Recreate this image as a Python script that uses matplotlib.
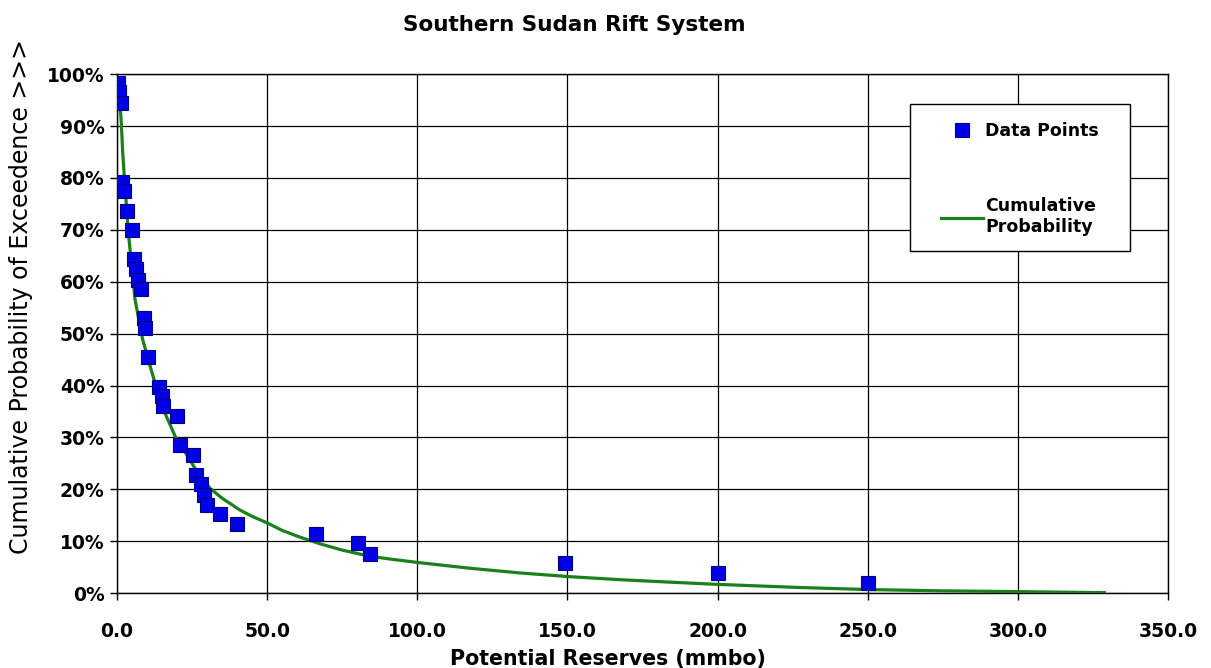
import matplotlib
matplotlib.use("Agg")
import matplotlib.pyplot as plt
from matplotlib.lines import Line2D
from matplotlib.patches import Rectangle
from matplotlib.ticker import FuncFormatter

plt.rcParams["font.family"] = ["DejaVu Sans"]

# Data points (reserves in mmbo, exceedence in %)
pts_x = [0.4, 0.8, 1.2, 1.6, 2.3, 3.2, 5.1, 5.6, 6.3, 7.1, 7.9, 9.1, 9.4, 10.4,
         14.0, 14.9, 15.3, 20.0, 20.9, 25.3, 26.2, 28.1, 28.9, 30.0, 34.2, 40.1,
         66.3, 80.3, 84.1, 149.1, 200.0, 250.0]
pts_y = [98.2, 96.5, 94.4, 79.3, 77.4, 73.6, 69.9, 64.3, 62.4, 60.4, 58.7, 53.1,
         51.1, 45.5, 39.8, 38.0, 36.1, 34.2, 28.6, 26.7, 22.8, 21.0, 19.0, 17.0,
         15.2, 13.3, 11.4, 9.6, 7.6, 5.8, 3.8, 2.0]

# Cumulative probability curve
curve_x = [0.4, 0.9, 1.4, 1.9, 2.5, 3.8, 6.0, 8.5, 11.0, 14.9, 19.4, 23.4, 27.0,
           31.0, 35.0, 41.0, 45.0, 49.8, 55.0, 60.9, 67.7, 75.0, 84.3, 92.0,
           100.4, 117.6, 134.2, 150.3, 167.5, 185.0, 200.0, 227.0, 250.0, 275.0,
           300.0, 328.8]
curve_y = [97.5, 95.0, 91.0, 85.0, 79.7, 69.4, 56.6, 49.0, 43.8, 36.1, 30.2, 26.5,
           23.1, 20.2, 18.3, 16.0, 14.8, 13.6, 12.1, 10.8, 9.5, 8.3, 7.1, 6.5,
           5.9, 4.8, 3.9, 3.2, 2.6, 2.1, 1.7, 1.1, 0.7, 0.45, 0.3, 0.1]

x_ticks = [0, 50, 100, 150, 200, 250, 300, 350]
y_ticks = [0, 10, 20, 30, 40, 50, 60, 70, 80, 90, 100]

fig = plt.figure(figsize=(12.11, 6.68), dpi=100)
ax = fig.add_axes([0.0966, 0.112, 0.8679, 0.777])

ax.plot(curve_x, curve_y, color="#1a801a", lw=2.3, zorder=3)
ax.plot(pts_x, pts_y, ls="none", marker="s", ms=9.5, mfc="#0000e6",
        mec="#000080", mew=0.8, zorder=4)

ax.set_xlim(0, 350)
ax.set_ylim(0, 100)
ax.set_xticks(x_ticks)
ax.set_yticks(y_ticks)
ax.xaxis.set_major_formatter(FuncFormatter(lambda v, p: f"{v:.1f}"))
ax.yaxis.set_major_formatter(FuncFormatter(lambda v, p: f"{v:.0f}%"))
ax.grid(True, color="black", lw=0.9)
ax.set_axisbelow(True)
for s in ax.spines.values():
    s.set_color("black")
    s.set_linewidth(1.0)
ax.tick_params(direction="out", length=5, width=1, colors="black",
               labelsize=13.5)
ax.tick_params(axis="x", pad=16)
ax.tick_params(axis="y", pad=4)
for lab in ax.get_xticklabels() + ax.get_yticklabels():
    lab.set_fontweight("bold")

ax.set_xlabel("Potential Reserves (mmbo)", fontsize=14.8, fontweight="bold")
ax.xaxis.set_label_coords(0.467, -0.108)
ax.set_ylabel("Cumulative Probability of Exceedence >>>", fontsize=17)
ax.yaxis.set_label_coords(-0.080, 0.571)
fig.text(0.474, 0.962, "Southern Sudan Rift System", ha="center", va="center",
         fontsize=15.5, fontweight="bold")

# legend box drawn separately so its padding can follow the original
ax.add_patch(Rectangle((0.7545, 0.6592), 0.2093, 0.283, transform=ax.transAxes,
                       facecolor="white", edgecolor="black", lw=1.0, zorder=5))
handles = [
    Line2D([], [], ls="none", marker="s", ms=9.5, mfc="#0000e6", mec="#000080", mew=0.8),
    Line2D([], [], color="#1a801a", lw=2.3),
]
leg = ax.legend(handles, ["Data Points", "Cumulative\nProbability"],
                loc="upper left", bbox_to_anchor=(0.784, 0.908),
                frameon=False, borderpad=0, labelspacing=3.3, handlelength=2.4,
                handletextpad=0.15, borderaxespad=0,
                prop={"size": 12.5, "weight": "bold"})
leg.set_zorder(6)

fig.savefig("out.png", dpi=100, facecolor="white")
